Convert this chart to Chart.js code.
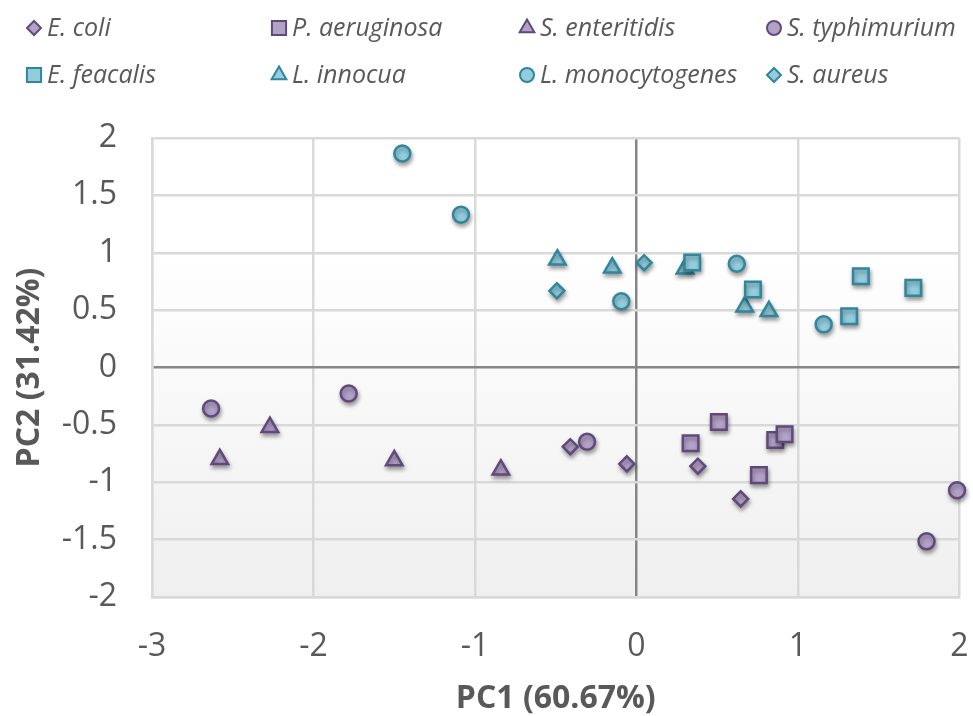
<!DOCTYPE html>
<html>
<head>
<meta charset="utf-8">
<script src="https://cdn.jsdelivr.net/npm/chart.js@4.4.1/dist/chart.umd.min.js"></script>
<style>
html,body{margin:0;padding:0;background:#fff}
#wrap{width:973px;height:716px}
</style>
</head>
<body>
<div id="wrap"><canvas id="c" width="973" height="716"></canvas></div>
<script>
// ── data: PC1 / PC2 scores per species ──
const names=['E. coli','P. aeruginosa','S. enteritidis','S. typhimurium','E. feacalis','L. innocua','L. monocytogenes','S. aureus'];
const eColi=[[-0.41,-0.69],[-0.06,-0.84],[0.38,-0.86],[0.645,-1.145]];
const pAeruginosa=[[0.335,-0.66],[0.51,-0.475],[0.758,-0.938],[0.859,-0.632],[0.917,-0.582]];
const sEnteritidis=[[-2.27,-0.52],[-2.58,-0.80],[-1.50,-0.81],[-0.84,-0.89]];
const sTyphimurium=[[-2.634,-0.358],[-1.782,-0.227],[-0.306,-0.647],[1.985,-1.069],[1.796,-1.515]];
const eFeacalis=[[0.345,0.915],[0.721,0.679],[1.389,0.795],[1.714,0.694],[1.317,0.446]];
const lInnocua=[[-0.49,0.94],[-0.15,0.87],[0.30,0.86],[0.67,0.53],[0.82,0.49]];
const lMonocytogenes=[[-1.45,1.865],[-1.087,1.332],[-0.094,0.577],[0.621,0.904],[1.159,0.376]];
const sAureus=[[0.047,0.913],[-0.493,0.668]];
const series=[eColi,pAeruginosa,sEnteritidis,sTyphimurium,eFeacalis,lInnocua,lMonocytogenes,sAureus];

// ── styles ──
const shapes=['rectRot','rect','triangle','circle','rect','triangle','circle','rectRot'];
const radius={rectRot:7.5,rect:11,triangle:9.5,circle:8};
const legendRad={rectRot:7,rect:10,triangle:8.5,circle:7};
const PURPLE={fill:'#b3a2c7',line:'#604a7b'},TEAL={fill:'#93cddd',line:'#31859c'};
const TXT='#595959',FONT='"Open Sans", sans-serif';

const datasets=series.map((pts,i)=>{
  const col=i<4?PURPLE:TEAL;
  return {label:names[i],data:pts.map(p=>({x:p[0],y:p[1]})),pointStyle:shapes[i],
    pointRadius:radius[shapes[i]],pointHoverRadius:radius[shapes[i]],
    backgroundColor:col.fill,borderColor:col.line,pointBorderWidth:2.5,showLine:false,clip:false};
});

// plot area gradient
const bgPlugin={id:'bg',beforeDraw(c){
  const {ctx,chartArea:a}=c;
  ctx.save();
  ctx.fillStyle='#fff';ctx.fillRect(0,0,c.width,c.height);
  const g=ctx.createLinearGradient(0,a.top,0,a.bottom);
  g.addColorStop(0,'#ffffff');g.addColorStop(0.25,'#ffffff');g.addColorStop(1,'#efefef');
  ctx.fillStyle=g;ctx.fillRect(a.left,a.top,a.right-a.left,a.bottom-a.top);
  ctx.restore();
}};

// soft drop shadow under markers
const shadowPlugin={id:'shadow',
  beforeDatasetsDraw(c){const x=c.ctx;x.save();x.shadowColor='rgba(0,0,0,0.35)';x.shadowBlur=4;x.shadowOffsetX=1;x.shadowOffsetY=3;},
  afterDatasetsDraw(c){c.ctx.restore();}};

// two-row legend with aligned columns
const legendCols=[34,279,527,774],legendRows=[28,75];
const legendPlugin={id:'colLegend',afterDraw(c){
  const ctx=c.ctx;
  c.data.datasets.forEach((ds,i)=>{
    const x=legendCols[i%4],y=legendRows[Math.floor(i/4)];
    ctx.save();
    ctx.fillStyle=ds.backgroundColor;ctx.strokeStyle=ds.borderColor;ctx.lineWidth=2;
    Chart.helpers.drawPoint(ctx,{pointStyle:ds.pointStyle,radius:legendRad[ds.pointStyle],rotation:0,borderWidth:2},x,y);
    ctx.fillStyle=TXT;ctx.font='italic 25px '+FONT;ctx.textBaseline='middle';ctx.textAlign='left';
    ctx.fillText(ds.label,x+13,y+1);
    ctx.restore();
  });
}};

const gridCol=ctx=>ctx.tick&&ctx.tick.value===0?'#868686':'#d9d9d9';
const noPad=s=>{s.paddingLeft=0;s.paddingRight=0;s.paddingTop=0;s.paddingBottom=0;};

new Chart(document.getElementById('c'),{
  type:'scatter',
  data:{datasets},
  options:{
    responsive:false,animation:false,
    layout:{padding:{top:138,right:10,left:0,bottom:0}},
    plugins:{legend:{display:false},tooltip:{enabled:false}},
    scales:{
      x:{type:'linear',min:-3,max:2,
        ticks:{stepSize:1,color:TXT,font:{family:FONT,size:32},padding:31,callback:v=>String(v)},
        grid:{color:gridCol,lineWidth:2.5,drawTicks:false},
        border:{color:'#d9d9d9',width:2.5},
        title:{display:true,text:'PC1 (60.67%)',color:TXT,font:{family:FONT,size:32,weight:'bold'},padding:{top:0,bottom:-2}},
        afterFit(s){s.height=119;noPad(s);}},
      y:{type:'linear',min:-2,max:2,
        ticks:{stepSize:0.5,color:TXT,font:{family:FONT,size:32},padding:35,callback:v=>String(v)},
        grid:{color:gridCol,lineWidth:2.5,drawTicks:false},
        border:{color:'#d9d9d9',width:2.5},
        title:{display:true,text:'PC2 (31.42%)',color:TXT,font:{family:FONT,size:32,weight:'bold'},padding:{top:11,bottom:0}},
        afterFit(s){s.width=152;noPad(s);}}
    }
  },
  plugins:[bgPlugin,shadowPlugin,legendPlugin]
});
</script>
</body>
</html>
